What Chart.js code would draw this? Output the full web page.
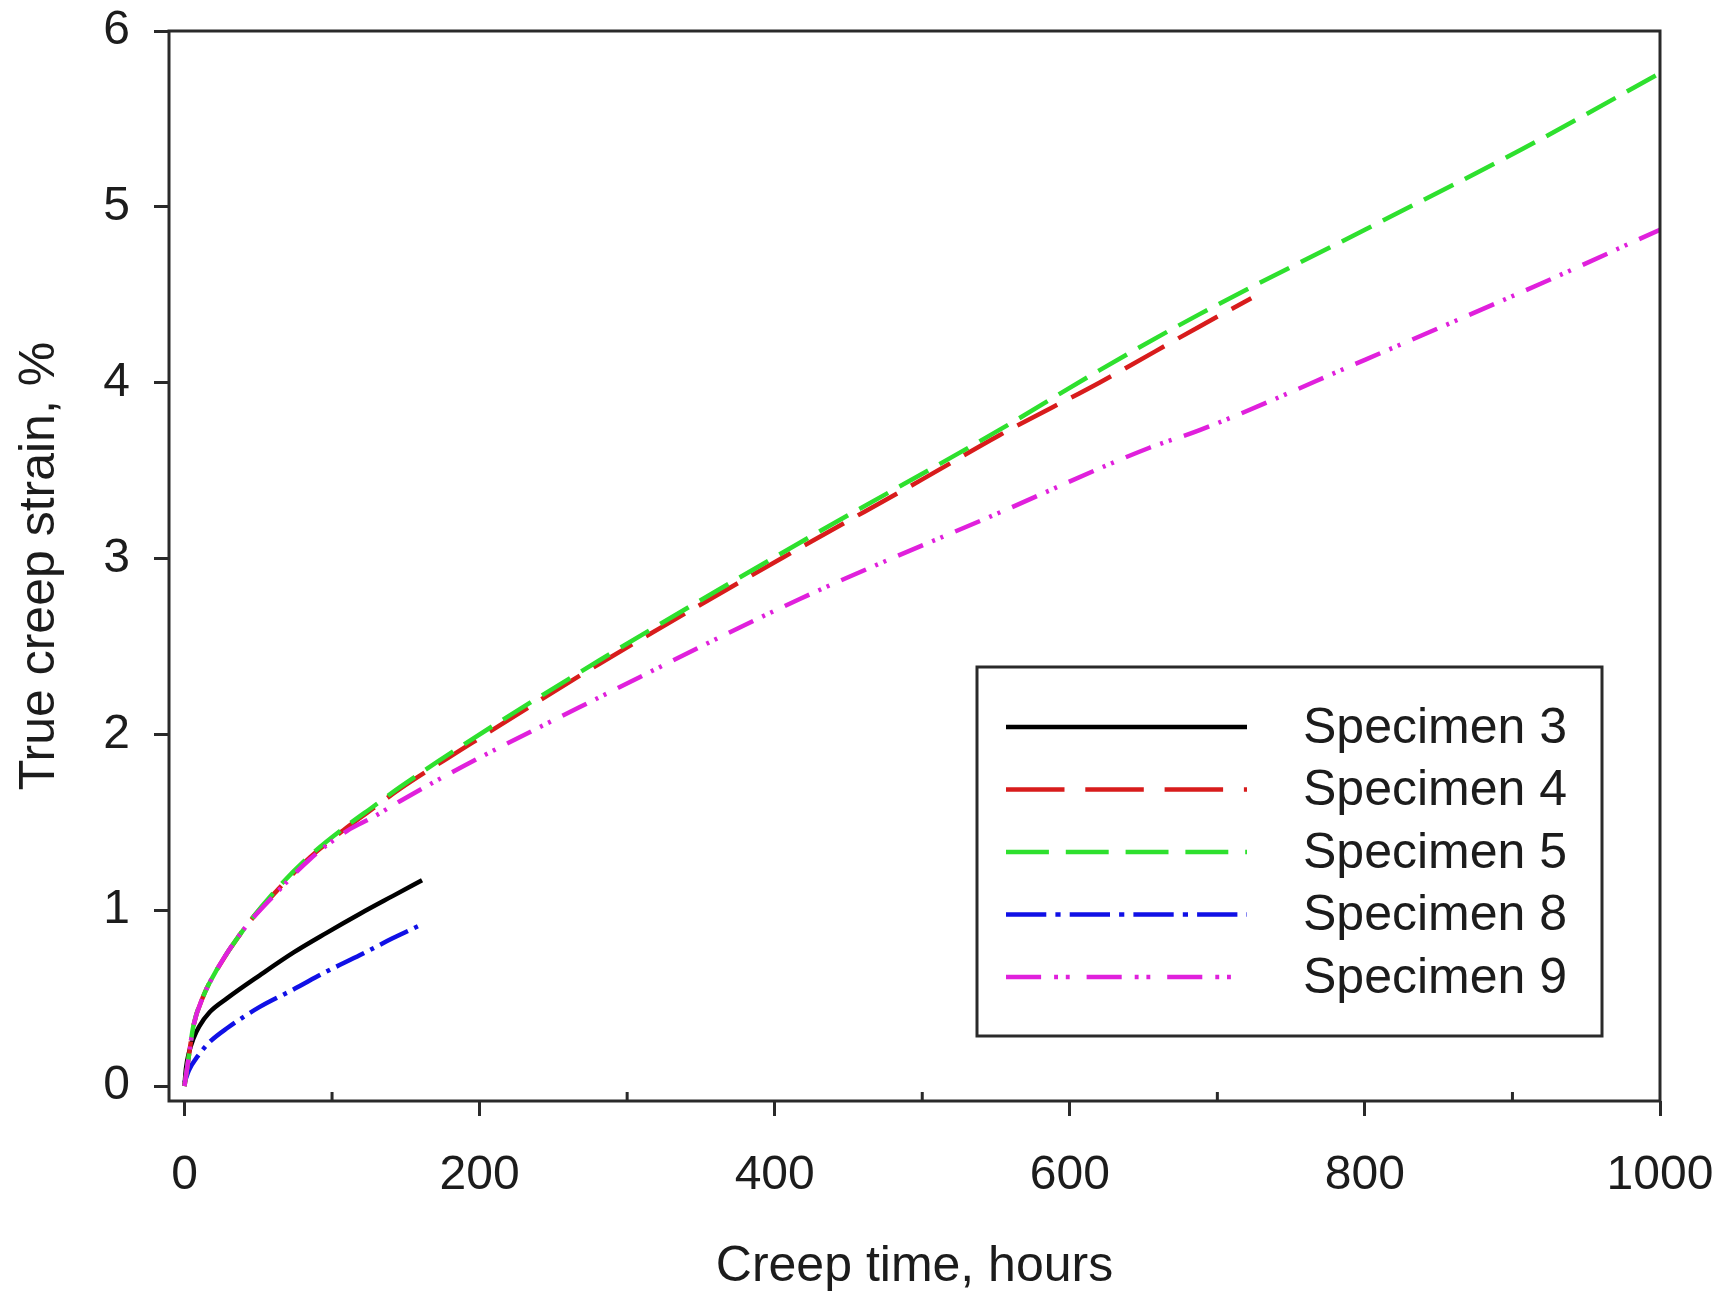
<!DOCTYPE html>
<html>
<head>
<meta charset="utf-8">
<script src="https://cdn.jsdelivr.net/npm/chart.js@4.4.1/dist/chart.umd.min.js"></script>
<style>
  html, body { margin: 0; padding: 0; background: #fff; }
  #wrap { width: 1732px; height: 1297px; }
</style>
</head>
<body>
<div id="wrap"><canvas id="creep" width="1732" height="1297"></canvas></div>
<script>
// creep curves: hours -> true creep strain (%)
const hours3 = [0, 1, 3, 6, 10, 17, 29, 51, 74, 96, 119, 141, 161];
const strain3 = [0, 0.1, 0.19, 0.27, 0.34, 0.42, 0.50, 0.63, 0.76, 0.87, 0.98, 1.08, 1.17];

const hours4 = [0, 2.6, 6, 12.7, 21.8, 40, 62.5, 85, 110, 128, 146, 187, 281, 417, 500, 552, 620, 688, 723];
const strain4 = [0, 0.15, 0.34, 0.51, 0.66, 0.89, 1.11, 1.30, 1.47, 1.58, 1.69, 1.91, 2.40, 3.06, 3.45, 3.70, 4.00, 4.32, 4.48];

const hours5 = [0, 2.6, 6, 12.7, 21.8, 40, 62.5, 85, 110, 128, 146, 187, 281, 417, 552, 620, 688, 800, 907, 1000];
const strain5 = [0, 0.15, 0.34, 0.51, 0.66, 0.89, 1.12, 1.31, 1.48, 1.59, 1.70, 1.93, 2.42, 3.09, 3.73, 4.07, 4.39, 4.87, 5.33, 5.76];

const hours8 = [0, 3, 9, 17, 29, 51, 74, 96, 119, 141, 161];
const strain8 = [0.02, 0.09, 0.17, 0.25, 0.33, 0.45, 0.55, 0.65, 0.745, 0.84, 0.92];

const hours9 = [0, 2.6, 6, 12.7, 21.8, 40, 62.5, 85, 110, 128, 146, 187, 281, 417, 552, 654, 688, 800, 921, 1000];
const strain9 = [0, 0.15, 0.34, 0.51, 0.66, 0.89, 1.10, 1.29, 1.45, 1.53, 1.62, 1.81, 2.21, 2.77, 3.26, 3.63, 3.73, 4.13, 4.57, 4.87];

const seriesNames = ['Specimen 3', 'Specimen 4', 'Specimen 5', 'Specimen 8', 'Specimen 9'];
const xTicks = [0, 200, 400, 600, 800, 1000];
const xMinorTicks = [100, 300, 500, 700, 900];
const yTicks = [0, 1, 2, 3, 4, 5, 6];

const FONT = '"Liberation Sans", Arial, Helvetica, sans-serif';
const INK = '#1c1c1c';
const FRAME = '#2a2a2a';

function pts(xs, ys) {
  return xs.map((x, i) => ({ x: x, y: ys[i] }));
}

function line(label, xs, ys, color, dash, order) {
  return {
    label: label,
    data: pts(xs, ys),
    borderColor: color,
    borderWidth: 4.5,
    borderDash: dash,
    borderCapStyle: 'butt',
    pointRadius: 0,
    fill: false,
    cubicInterpolationMode: 'monotone',
    order: order
  };
}

// frame, inward minor ticks on x, and the boxed legend
const framePlugin = {
  id: 'frame',
  afterDatasetsDraw(chart) {
    const { ctx, chartArea: a, scales } = chart;
    ctx.save();
    ctx.strokeStyle = FRAME;
    ctx.lineWidth = 3;
    ctx.setLineDash([]);
    ctx.strokeRect(a.left, a.top, a.right - a.left, a.bottom - a.top);
    ctx.beginPath();
    xMinorTicks.forEach(v => {
      const px = scales.x.getPixelForValue(v);
      ctx.moveTo(px, a.bottom);
      ctx.lineTo(px, a.bottom - 9);
    });
    ctx.stroke();
    ctx.restore();
  },
  afterDraw(chart) {
    const ctx = chart.ctx;
    const box = { left: 977, top: 667, right: 1602, bottom: 1036 };
    ctx.save();
    ctx.fillStyle = '#fff';
    ctx.fillRect(box.left, box.top, box.right - box.left, box.bottom - box.top);
    ctx.strokeStyle = FRAME;
    ctx.lineWidth = 3;
    ctx.strokeRect(box.left, box.top, box.right - box.left, box.bottom - box.top);
    ctx.font = '50px ' + FONT;
    ctx.textBaseline = 'middle';
    ctx.fillStyle = INK;
    chart.data.datasets.forEach((ds, i) => {
      const y = 727 + i * 62.5;
      ctx.beginPath();
      ctx.strokeStyle = ds.borderColor;
      ctx.lineWidth = 4.5;
      ctx.lineCap = 'butt';
      ctx.setLineDash((ds.borderDash || []).map(d => d * 1.3));
      ctx.moveTo(1006, y);
      ctx.lineTo(1247, y);
      ctx.stroke();
      ctx.setLineDash([]);
      ctx.fillText(ds.label, 1303, y + 2);
    });
    ctx.restore();
  }
};

const ctx = document.getElementById('creep').getContext('2d');
new Chart(ctx, {
  type: 'line',
  data: {
    datasets: [
      line(seriesNames[0], hours3, strain3, '#000000', [], 3),
      line(seriesNames[1], hours4, strain4, '#d81c1c', [45, 16], 2),
      line(seriesNames[2], hours5, strain5, '#2ee02e', [33, 13], 1),
      line(seriesNames[3], hours8, strain8, '#1010e6', [31, 7, 4, 7], 4),
      line(seriesNames[4], hours9, strain9, '#e020dc', [27, 10, 3, 6, 3, 13], 0)
    ]
  },
  options: {
    responsive: false,
    animation: false,
    events: [],
    layout: { padding: { left: 0, top: 31, right: 72, bottom: 0 } },
    plugins: {
      legend: { display: false },
      tooltip: { enabled: false }
    },
    scales: {
      x: {
        type: 'linear',
        min: -10.5,
        max: 1000,
        afterBuildTicks: s => { s.ticks = xTicks.map(v => ({ value: v })); },
        afterFit: s => { s.height = 196; s.paddingLeft = 0; s.paddingRight = 0; },
        border: { display: false },
        grid: { drawOnChartArea: false, tickLength: 15, lineWidth: 3, color: FRAME },
        ticks: {
          autoSkip: false,
          maxRotation: 0,
          padding: 31,
          color: INK,
          font: { family: FONT, size: 48 },
          callback: v => String(v)
        },
        title: {
          display: true,
          text: 'Creep time, hours',
          color: INK,
          font: { family: FONT, size: 50 },
          padding: { top: 0, bottom: 0 }
        }
      },
      y: {
        type: 'linear',
        min: -0.085,
        max: 6,
        afterBuildTicks: s => { s.ticks = yTicks.map(v => ({ value: v })); },
        afterFit: s => { s.width = 169; s.paddingTop = 0; s.paddingBottom = 0; },
        border: { display: false },
        grid: { drawOnChartArea: false, tickLength: 15, lineWidth: 3, color: FRAME },
        ticks: {
          padding: 24,
          color: INK,
          font: { family: FONT, size: 48 },
          callback: v => String(v)
        },
        title: {
          display: true,
          text: 'True creep strain, %',
          color: INK,
          font: { family: FONT, size: 50 },
          padding: { top: 10, bottom: 0 }
        }
      }
    }
  },
  plugins: [framePlugin]
});
</script>
</body>
</html>
